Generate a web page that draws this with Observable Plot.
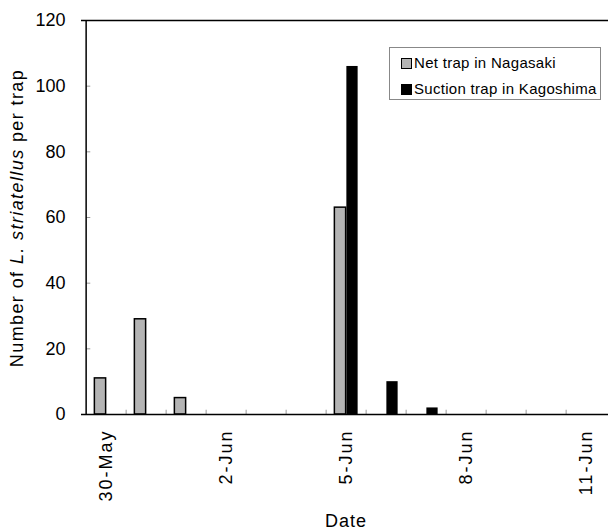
<!DOCTYPE html>
<html><head><meta charset="utf-8">
<script src="https://cdn.jsdelivr.net/npm/d3@7"></script>
<script src="https://cdn.jsdelivr.net/npm/@observablehq/plot@0.6"></script>
<style>
body{margin:0;background:#fff;font-family:"Liberation Sans",Arial,sans-serif}
#wrap{position:relative;width:608px;height:530px;overflow:hidden}
.legend{position:absolute;left:389px;top:47px;width:212px;height:53px;border:1px solid #888;background:#fff;font-size:15px;box-sizing:border-box;color:#000}
.row{position:absolute;left:11px;height:16px;line-height:16px;white-space:nowrap;letter-spacing:0.3px}
.sw{display:inline-block;width:11px;height:11px;box-sizing:border-box;border:1px solid #000;margin-right:2px;vertical-align:-1px}
.xt text{letter-spacing:2px}
</style></head>
<body><div id="wrap"></div>
<script>
const dates = ["30-May","31-May","1-Jun","2-Jun","3-Jun","4-Jun","5-Jun","6-Jun","7-Jun","8-Jun","9-Jun","10-Jun","11-Jun"];
const nagasaki = [11,29,5,0,0,0,63,0,0,0,0,0,0];
const kagoshima = [0,0,0,0,0,0,106,10,2,0,0,0,0];
const tickLabels = ["30-May","2-Jun","5-Jun","8-Jun","11-Jun"];
const yTicks = [0,20,40,60,80,100,120];
const seriesNames = ["Net trap in Nagasaki","Suction trap in Kagoshima"];

const greyData = dates.map((d,i)=>({date:d, v:nagasaki[i]})).filter(d=>d.v>0);
const blackData = dates.map((d,i)=>({date:d, v:kagoshima[i]})).filter(d=>d.v>0);

const x0 = 81, x1 = 610.5;
const bw = (x1 - x0) / dates.length;
const barW = 12;

const chart = Plot.plot({
  width: 608, height: 530,
  marginLeft: 81, marginRight: 0, marginTop: 20, marginBottom: 116,
  x: {domain: dates, range: [x0, x1], padding: 0},
  y: {domain: [0,120]},
  style: {fontFamily: '"Liberation Sans", Arial, sans-serif', fontSize: "18px", color: "#000", background: "#fff"},
  marks: [
    Plot.barY(greyData, {x: "date", y: "v", fill: "#b4b4b4", stroke: "#000", strokeWidth: 1.5, insetLeft: bw/2 - barW, insetRight: bw/2}),
    Plot.barY(blackData, {x: "date", y: "v", fill: "#000", insetLeft: bw/2, insetRight: bw/2 - barW}),
    Plot.ruleX(dates.slice(1), {x: d => d, y1: 0, y2: 1.3, dx: -bw/2, stroke: "#999", strokeWidth: 1}),
    Plot.tickY(yTicks.slice(1, -1), {x: () => dates[0], y: d => d, insetRight: bw - 5, stroke: "#999", strokeWidth: 1}),
    Plot.ruleX([dates[0]], {x: d => d, dx: -bw/2, stroke: "#000", strokeWidth: 1.5}),
    Plot.ruleY([0, 120], {stroke: "#000", strokeWidth: 1.5}),
    Plot.axisY(yTicks, {tickSize: 0, tickPadding: 16, fontSize: 18, label: null}),
    Plot.axisX(tickLabels, {tickSize: 0, tickRotate: -90, tickPadding: 15, fontSize: 18, label: null, className: "xt"})
  ]
});
document.getElementById("wrap").appendChild(chart);

const svg = d3.select(chart);
svg.selectAll("g[aria-label='x-axis tick label'] text").style("letter-spacing", "2px");

const t = svg.append("text")
  .attr("transform", "translate(17,218) rotate(-90)")
  .attr("text-anchor", "middle")
  .attr("dominant-baseline", "central")
  .attr("font-size", 18)
  .style("letter-spacing", "1.4px")
  .attr("fill", "#000");
t.append("tspan").text("Number of ");
t.append("tspan").attr("font-style", "italic").text("L. striatellus");
t.append("tspan").text(" per trap");

svg.append("text")
  .attr("x", 346).attr("y", 527)
  .attr("text-anchor", "middle")
  .attr("font-size", 18)
  .style("letter-spacing", "1px")
  .attr("fill", "#000")
  .text("Date");

const lg = d3.select("#wrap").append("div").attr("class", "legend");
const fills = ["#b4b4b4", "#000"];
seriesNames.forEach((n, i) => {
  const r = lg.append("div").attr("class", "row").style("top", (i === 0 ? 7 : 33) + "px");
  r.append("span").attr("class", "sw").style("background", fills[i]);
  r.append("span").text(n);
});
</script></body></html>
